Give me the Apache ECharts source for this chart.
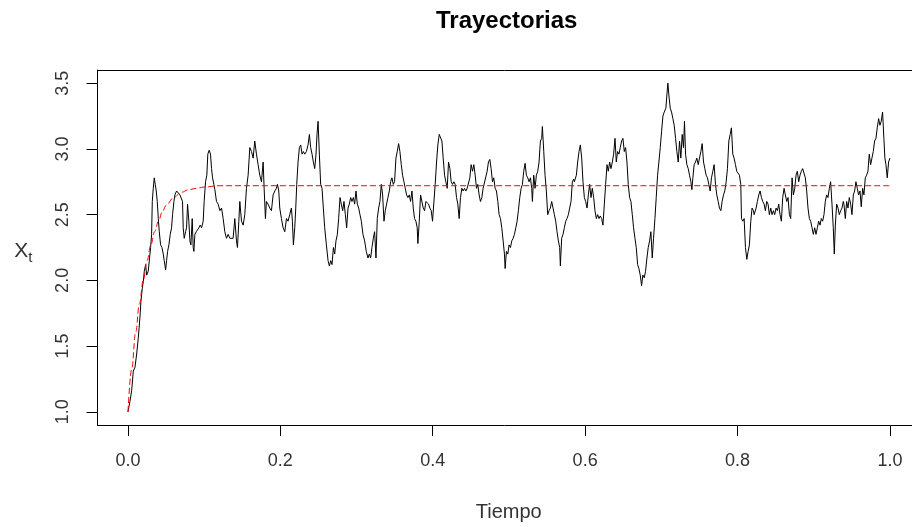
<!DOCTYPE html>
<html>
<head>
<meta charset="utf-8">
<script src="https://cdn.jsdelivr.net/npm/echarts@6/dist/echarts.min.js"></script>
<style>html,body{margin:0;padding:0;background:#fff}#chart{width:912px;height:527px}</style>
</head>
<body>
<div id="chart"></div>
<script>
// Trajectory X_t: [tiempo, valor]
var tramo1 = [[0,1.00],[0.0026,1.08],[0.0048,1.16],[0.0070,1.31],[0.0092,1.34],[0.0114,1.44],[0.0135,1.56],[0.0157,1.72],[0.0170,1.84],[0.0188,1.94],[0.0201,1.99],[0.0214,2.07],[0.0232,2.12],[0.0245,2.04],[0.0266,2.07],[0.0288,2.06],[0.0297,2.25],[0.0310,2.35],[0.0319,2.60],[0.0332,2.70],[0.0345,2.78],[0.0358,2.73],[0.0371,2.68],[0.0384,2.60],[0.0398,2.47],[0.0411,2.37],[0.0428,2.27],[0.0446,2.25],[0.0463,2.20],[0.0476,2.15],[0.0494,2.08],[0.0507,2.15],[0.0520,2.22],[0.0537,2.27],[0.0555,2.35],[0.0572,2.40],[0.0585,2.50],[0.0603,2.60],[0.0616,2.65],[0.0638,2.68],[0.0660,2.69],[0.0682,2.65],[0.0703,2.64],[0.0716,2.60],[0.0725,2.40],[0.0738,2.32],[0.0756,2.37],[0.0769,2.40],[0.0782,2.58],[0.0799,2.45],[0.0813,2.30],[0.0826,2.27],[0.0843,2.47],[0.0856,2.25],[0.0865,2.22],[0.0878,2.35],[0.0896,2.37],[0.0913,2.36],[0.0931,2.40],[0.0948,2.42],[0.0966,2.40],[0.0987,2.45],[0.1000,2.60],[0.1018,2.75],[0.1035,2.80],[0.1048,2.96],[0.1066,2.99],[0.1083,2.96],[0.1097,2.85],[0.1110,2.78],[0.1127,2.73],[0.1140,2.69]];
var tramo2 = [[0.1162,2.60],[0.1184,2.58],[0.1206,2.53],[0.1228,2.55],[0.1249,2.47],[0.1271,2.37],[0.1293,2.32],[0.1315,2.35],[0.1337,2.32],[0.1359,2.31],[0.1380,2.32],[0.1402,2.47],[0.1424,2.30],[0.1437,2.25],[0.1455,2.45],[0.1468,2.60],[0.1490,2.45],[0.1512,2.42],[0.1533,2.50],[0.1555,2.70],[0.1577,2.80],[0.1599,3.01],[0.1621,2.98],[0.1643,2.93],[0.1664,3.06],[0.1686,2.96],[0.1708,2.88],[0.1730,2.80],[0.1752,2.75],[0.1774,2.90],[0.1787,2.70],[0.1804,2.47],[0.1817,2.60],[0.1839,2.58],[0.1861,2.55],[0.1883,2.53],[0.1905,2.65],[0.1927,2.68],[0.1948,2.70],[0.1962,2.73],[0.1979,2.68],[0.1992,2.55],[0.2014,2.47],[0.2036,2.40],[0.2058,2.37],[0.2080,2.47],[0.2101,2.45],[0.2123,2.50],[0.2145,2.55],[0.2158,2.45],[0.2171,2.27],[0.2189,2.40],[0.2202,2.55],[0.2215,2.73],[0.2232,2.90],[0.2250,3.01],[0.2267,3.03],[0.2285,2.96],[0.2302,2.98],[0.2320,2.96]];
var tramo3 = [[0.2342,2.98],[0.2363,3.03],[0.2381,3.11],[0.2398,3.01],[0.2416,2.96],[0.2433,2.90],[0.2451,2.85],[0.2468,2.96],[0.2481,3.11],[0.2495,3.21],[0.2512,2.96],[0.2529,2.73],[0.2547,2.70],[0.2564,2.55],[0.2582,2.40],[0.2604,2.27],[0.2626,2.15],[0.2643,2.11],[0.2661,2.15],[0.2678,2.12],[0.2696,2.25],[0.2713,2.20],[0.2730,2.30],[0.2748,2.35],[0.2765,2.47],[0.2783,2.63],[0.2800,2.58],[0.2818,2.53],[0.2835,2.60],[0.2853,2.50],[0.2870,2.40],[0.2888,2.55],[0.2905,2.58],[0.2923,2.63],[0.2940,2.60],[0.2958,2.63],[0.2975,2.58],[0.2993,2.68],[0.3010,2.58],[0.3028,2.55],[0.3045,2.50],[0.3063,2.45],[0.3084,2.35],[0.3106,2.30],[0.3128,2.22],[0.3150,2.17],[0.3167,2.20],[0.3185,2.17],[0.3202,2.25],[0.3220,2.32],[0.3237,2.37],[0.3255,2.17],[0.3272,2.47],[0.3290,2.55],[0.3307,2.60],[0.3325,2.73],[0.3342,2.65],[0.3360,2.45],[0.3377,2.53],[0.3394,2.58],[0.3412,2.63],[0.3430,2.68],[0.3447,2.75],[0.3464,2.78],[0.3482,2.73],[0.3499,2.75]];
var tramo4 = [[0.3517,2.93],[0.3534,2.98],[0.3552,3.04],[0.3569,2.98],[0.3587,2.88],[0.3604,2.80],[0.3622,2.75],[0.3639,2.70],[0.3657,2.65],[0.3674,2.63],[0.3692,2.65],[0.3709,2.60],[0.3727,2.68],[0.3744,2.55],[0.3761,2.47],[0.3779,2.45],[0.3796,2.40],[0.3805,2.28],[0.3823,2.45],[0.3840,2.65],[0.3858,2.65],[0.3875,2.55],[0.3893,2.53],[0.3910,2.60],[0.3928,2.59],[0.3945,2.58],[0.3962,2.55],[0.3980,2.53],[0.3997,2.45],[0.4015,2.44],[0.4032,2.73],[0.4050,2.90],[0.4067,3.03],[0.4085,3.11],[0.4102,3.12],[0.4120,3.06],[0.4137,2.93],[0.4155,2.80],[0.4172,2.75],[0.4190,2.70],[0.4207,2.90],[0.4225,2.85],[0.4242,2.75],[0.4260,2.73],[0.4277,2.75],[0.4294,2.73],[0.4312,2.63],[0.4329,2.58],[0.4347,2.47],[0.4364,2.63],[0.4382,2.70],[0.4399,2.68],[0.4417,2.70],[0.4434,2.68],[0.4452,2.70],[0.4469,2.70],[0.4487,2.78],[0.4504,2.88],[0.4522,2.83],[0.4539,2.88],[0.4557,2.80],[0.4574,2.70],[0.4591,2.73],[0.4609,2.65],[0.4626,2.60],[0.4644,2.63],[0.4661,2.70],[0.4679,2.69]];
var tramo5 = [[0.4714,2.83],[0.4731,2.90],[0.4749,2.92],[0.4766,2.85],[0.4784,2.75],[0.4801,2.78],[0.4819,2.70],[0.4836,2.68],[0.4854,2.60],[0.4871,2.50],[0.4889,2.47],[0.4906,2.40],[0.4924,2.30],[0.4941,2.20],[0.4950,2.09],[0.4967,2.22],[0.4985,2.20],[0.5002,2.27],[0.5020,2.25],[0.5037,2.30],[0.5055,2.32],[0.5072,2.35],[0.5090,2.40],[0.5107,2.45],[0.5124,2.53],[0.5142,2.63],[0.5160,2.70],[0.5177,2.73],[0.5194,2.83],[0.5212,2.89],[0.5229,2.80],[0.5247,2.78],[0.5264,2.75],[0.5282,2.78],[0.5299,2.70],[0.5308,2.60],[0.5325,2.80],[0.5343,2.70],[0.5360,2.80],[0.5378,2.83],[0.5395,2.90],[0.5413,3.06],[0.5430,3.08],[0.5439,3.17],[0.5457,2.98],[0.5474,2.80],[0.5491,2.68],[0.5509,2.50],[0.5526,2.53],[0.5544,2.55],[0.5561,2.60],[0.5579,2.55],[0.5596,2.50],[0.5614,2.45],[0.5631,2.37],[0.5649,2.30],[0.5666,2.25],[0.5675,2.11],[0.5692,2.32],[0.5710,2.35],[0.5727,2.40],[0.5745,2.45],[0.5762,2.47],[0.5780,2.50],[0.5797,2.55],[0.5815,2.60],[0.5832,2.75],[0.5850,2.77],[0.5858,2.75]];
var tramo6 = [[0.5885,2.80],[0.5902,2.90],[0.5920,2.98],[0.5937,3.03],[0.5955,2.93],[0.5972,2.75],[0.5990,2.63],[0.6007,2.60],[0.6025,2.55],[0.6042,2.65],[0.6059,2.73],[0.6077,2.63],[0.6094,2.70],[0.6112,2.63],[0.6129,2.53],[0.6147,2.47],[0.6164,2.50],[0.6182,2.47],[0.6199,2.49],[0.6217,2.47],[0.6234,2.42],[0.6252,2.58],[0.6269,2.73],[0.6287,2.88],[0.6304,2.83],[0.6322,2.90],[0.6339,2.85],[0.6357,2.90],[0.6374,2.96],[0.6392,3.08],[0.6409,2.90],[0.6426,2.98],[0.6444,2.96],[0.6461,3.01],[0.6479,3.06],[0.6496,3.08],[0.6514,2.98],[0.6531,3.01],[0.6549,2.90],[0.6566,2.73],[0.6584,2.63],[0.6601,2.60],[0.6619,2.50],[0.6636,2.40],[0.6654,2.32],[0.6671,2.25],[0.6689,2.12],[0.6706,2.09],[0.6723,2.04],[0.6741,1.96],[0.6758,2.04],[0.6776,2.02],[0.6793,2.07],[0.6811,2.17],[0.6828,2.25],[0.6846,2.30],[0.6863,2.37],[0.6881,2.17],[0.6898,2.32],[0.6916,2.47],[0.6933,2.63],[0.6951,2.80],[0.6968,2.90],[0.6986,3.01],[0.7003,3.13],[0.7021,3.25],[0.7038,3.28]];
var tramo7 = [[0.7060,3.31],[0.7073,3.41],[0.7086,3.50],[0.7099,3.41],[0.7117,3.31],[0.7134,3.28],[0.7152,3.23],[0.7169,3.18],[0.7187,3.08],[0.7204,2.98],[0.7222,2.90],[0.7239,3.06],[0.7256,2.93],[0.7274,3.11],[0.7291,3.01],[0.7304,3.21],[0.7318,2.96],[0.7335,2.88],[0.7353,2.85],[0.7370,2.80],[0.7388,2.75],[0.7401,2.69],[0.7414,2.78],[0.7431,2.88],[0.7449,2.90],[0.7466,2.93],[0.7484,2.88],[0.7501,2.93],[0.7519,2.98],[0.7536,3.04],[0.7554,2.90],[0.7571,2.85],[0.7588,2.80],[0.7606,2.78],[0.7623,2.73],[0.7641,2.68],[0.7658,2.78],[0.7676,2.83],[0.7693,2.88],[0.7711,2.73],[0.7728,2.65],[0.7746,2.60],[0.7763,2.55],[0.7781,2.53],[0.7798,2.60],[0.7816,2.65],[0.7833,2.68],[0.7851,2.75],[0.7868,2.85],[0.7886,3.06],[0.7903,3.11],[0.7920,3.16],[0.7938,2.96],[0.7955,2.93],[0.7973,2.88],[0.7990,2.83],[0.8008,2.83],[0.8025,2.80],[0.8043,2.73],[0.8052,2.47],[0.8069,2.45],[0.8087,2.47],[0.8104,2.25],[0.8122,2.16],[0.8139,2.22],[0.8156,2.27],[0.8174,2.45],[0.8191,2.55],[0.8209,2.53],[0.8218,2.50]];
var tramo8 = [[0.8244,2.55],[0.8261,2.60],[0.8279,2.65],[0.8296,2.68],[0.8314,2.63],[0.8331,2.60],[0.8349,2.58],[0.8366,2.53],[0.8384,2.60],[0.8401,2.58],[0.8418,2.50],[0.8436,2.55],[0.8453,2.50],[0.8471,2.53],[0.8488,2.50],[0.8506,2.55],[0.8523,2.53],[0.8541,2.58],[0.8558,2.50],[0.8576,2.45],[0.8593,2.63],[0.8611,2.70],[0.8628,2.65],[0.8646,2.60],[0.8663,2.63],[0.8681,2.50],[0.8698,2.47],[0.8716,2.78],[0.8733,2.65],[0.8751,2.70],[0.8768,2.80],[0.8785,2.83],[0.8803,2.75],[0.8820,2.80],[0.8838,2.83],[0.8855,2.85],[0.8873,2.84],[0.8890,2.78],[0.8908,2.68],[0.8925,2.55],[0.8943,2.47],[0.8960,2.45],[0.8978,2.40],[0.8995,2.35],[0.9013,2.40],[0.9030,2.35],[0.9048,2.40],[0.9065,2.45],[0.9083,2.42],[0.9100,2.47],[0.9117,2.45],[0.9135,2.50],[0.9152,2.60],[0.9170,2.65],[0.9187,2.63],[0.9205,2.70],[0.9222,2.75],[0.9240,2.58],[0.9257,2.40],[0.9270,2.20],[0.9284,2.42],[0.9301,2.58],[0.9319,2.55],[0.9336,2.50],[0.9354,2.53],[0.9371,2.55],[0.9388,2.60],[0.9397,2.58]];
var tramo9 = [[0.9415,2.47],[0.9432,2.60],[0.9450,2.55],[0.9467,2.63],[0.9485,2.58],[0.9502,2.50],[0.9520,2.65],[0.9537,2.68],[0.9554,2.75],[0.9572,2.70],[0.9589,2.65],[0.9607,2.68],[0.9624,2.56],[0.9642,2.70],[0.9659,2.65],[0.9677,2.78],[0.9694,2.80],[0.9712,2.83],[0.9729,2.96],[0.9747,2.88],[0.9764,2.93],[0.9782,2.98],[0.9799,3.06],[0.9817,3.08],[0.9834,3.16],[0.9852,3.23],[0.9869,3.18],[0.9886,3.21],[0.9904,3.28],[0.9921,3.08],[0.9934,2.93],[0.9948,2.88],[0.9965,2.78],[0.9983,2.90],[1.0000,2.93]];

// Mean curve (red dashed)
var tMedia = [0, 0.005, 0.01, 0.015, 0.02, 0.025, 0.03, 0.035, 0.04, 0.045, 0.05, 0.06, 0.07, 0.08, 0.09, 0.10, 0.12, 0.15, 1.0];
var media  = [1.00, 1.33, 1.60, 1.82, 2.00, 2.15, 2.27, 2.37, 2.45, 2.52, 2.57, 2.63, 2.67, 2.69, 2.70, 2.71, 2.72, 2.72, 2.72];

// Tick labels
var xTicks = [0, 0.2, 0.4, 0.6, 0.8, 1.0];
var yTicks = [1.0, 1.5, 2.0, 2.5, 3.0, 3.5];

var trayectoria = [].concat(tramo1, tramo2, tramo3, tramo4, tramo5, tramo6, tramo7, tramo8, tramo9);
var mediaData = tMedia.map(function (t, i) { return [t, media[i]]; });

var FONT = 'Liberation Sans, Arial, sans-serif';
var chart = echarts.init(document.getElementById('chart'), null, { renderer: 'canvas' });
var boxLine = { show: true, onZero: false, lineStyle: { color: '#000', width: 1 } };
chart.setOption({
  animation: false,
  backgroundColor: '#ffffff',
  title: {
    text: 'Trayectorias',
    left: 436,
    top: 9,
    padding: 0,
    textStyle: { fontFamily: FONT, fontWeight: 'bold', fontSize: 24, color: '#000' }
  },
  grid: {
    left: 97.5, right: 0, top: 70, bottom: 101,
    show: false, containLabel: false
  },
  xAxis: [{
    type: 'value', min: -0.04, max: 1.029, position: 'bottom',
    axisLine: boxLine,
    splitLine: { show: false },
    axisTick: { show: true, length: 11, inside: false, customValues: xTicks, lineStyle: { color: '#000', width: 1 } },
    axisLabel: {
      customValues: xTicks, margin: 27, fontSize: 18, fontFamily: FONT, color: '#333',
      formatter: function (v) { return v.toFixed(1); }
    },
    name: 'Tiempo', nameLocation: 'middle', nameGap: 77,
    nameTextStyle: { fontSize: 20, fontFamily: FONT, color: '#333', padding: [0, 0, 0, 8] }
  }, {
    type: 'value', min: -0.04, max: 1.029, position: 'top',
    axisLine: boxLine,
    splitLine: { show: false }, axisTick: { show: false }, axisLabel: { show: false }
  }],
  yAxis: {
    type: 'value', min: 0.9, max: 3.6, position: 'left',
    axisLine: boxLine,
    splitLine: { show: false },
    axisTick: { show: true, length: 11, inside: false, customValues: yTicks, lineStyle: { color: '#000', width: 1 } },
    axisLabel: {
      customValues: yTicks, rotate: 90, margin: 25, fontSize: 18, fontFamily: FONT, color: '#333',
      formatter: function (v) { return v.toFixed(1); }
    },
    name: '{x|X}{t|t}', nameLocation: 'middle', nameRotate: 0, nameGap: 65,
    nameTextStyle: {
      color: '#333', padding: [8, 0, 0, 0],
      rich: {
        x: { fontSize: 21, fontFamily: FONT, color: '#333', lineHeight: 28, verticalAlign: 'middle' },
        t: { fontSize: 15, fontFamily: FONT, color: '#333', lineHeight: 28, verticalAlign: 'bottom' }
      }
    }
  },
  series: [
    {
      type: 'line', data: trayectoria, showSymbol: false, symbol: 'none', silent: true,
      lineStyle: { color: '#000', width: 1 }, z: 2
    },
    {
      type: 'line', data: mediaData, showSymbol: false, symbol: 'none', silent: true,
      smooth: 0.4, smoothMonotone: 'x',
      lineStyle: { color: '#ff0000', width: 1, type: [6, 3] }, z: 3
    }
  ]
});
</script>
</body>
</html>
